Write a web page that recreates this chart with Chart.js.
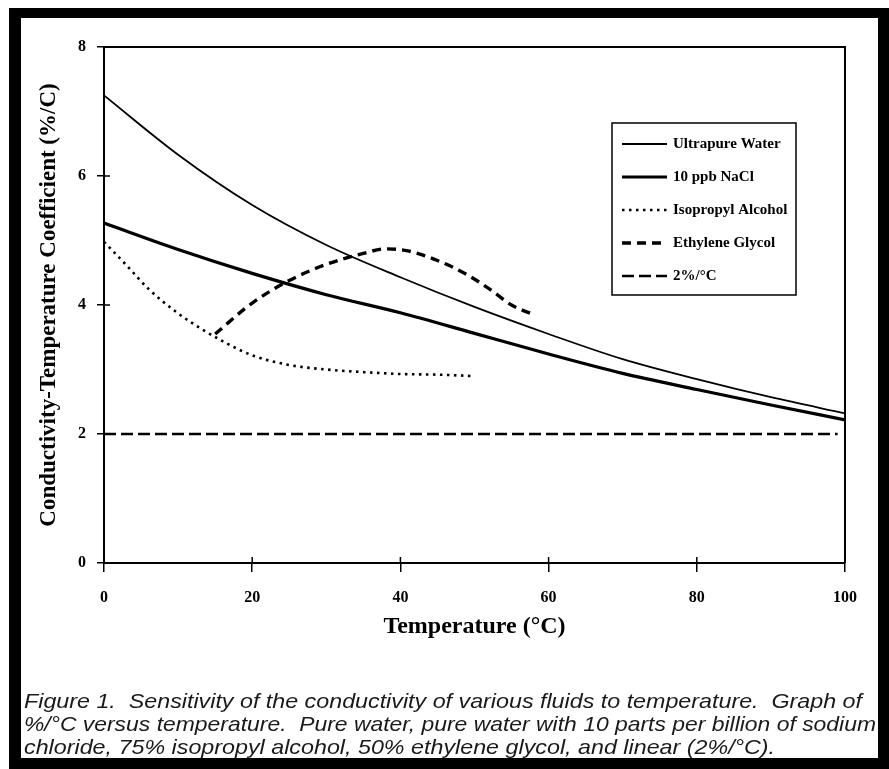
<!DOCTYPE html>
<html>
<head>
<meta charset="utf-8">
<title>Conductivity temperature coefficient</title>
<script src="https://cdn.jsdelivr.net/npm/chart.js@4.4.1/dist/chart.umd.min.js"></script>
<style>
  body { margin: 0; width: 889px; height: 769px; overflow: hidden; background: #fff; position: relative; }
  #frame { position: absolute; left: 9px; top: 8px; width: 880px; height: 761px; background: #000; }
  #inner { position: absolute; left: 12px; top: 10px; width: 857px; height: 740px; background: #fff; }
  #chart { position: absolute; left: 0; top: 0; }
  .cap { position: absolute; left: 24px; font: italic 21px "Liberation Sans Narrow", "Liberation Sans", sans-serif;
         white-space: pre; transform-origin: left center; color: #1a1a1a; line-height: 23px; }
</style>
</head>
<body>
<div id="frame"><div id="inner"></div></div>
<canvas id="chart" width="889" height="769"></canvas>
<div class="cap" style="top:689px" data-w="838">Figure 1.  Sensitivity of the conductivity of various fluids to temperature.  Graph of</div>
<div class="cap" style="top:712px" data-w="852">%/°C versus temperature.  Pure water, pure water with 10 parts per billion of sodium</div>
<div class="cap" style="top:735px" data-w="751">chloride, 75% isopropyl alcohol, 50% ethylene glycol, and linear (2%/°C).</div>
<script>
// valores
const waterT = [0, 10, 20, 30, 40, 50, 60, 70, 80, 90, 100];
const waterVals = [7.25, 6.33, 5.55, 4.93, 4.43, 3.97, 3.55, 3.16, 2.85, 2.57, 2.32];

const naclT = [0, 10, 20, 30, 40, 50, 60, 70, 80, 90, 100];
const naclVals = [5.27, 4.86, 4.49, 4.16, 3.88, 3.56, 3.24, 2.94, 2.69, 2.45, 2.22];

const ipaT = [0, 3, 6, 10, 13, 16, 20, 25, 30, 35, 40, 45, 49.5];
const ipaVals = [4.98, 4.62, 4.25, 3.87, 3.64, 3.44, 3.22, 3.07, 3.0, 2.96, 2.93, 2.92, 2.9];

const glycolT = [15, 20, 25, 30, 35, 38, 41, 45, 49, 52, 55, 58.2];
const glycolVals = [3.55, 4.03, 4.38, 4.63, 4.8, 4.87, 4.84, 4.69, 4.47, 4.25, 4.0, 3.84];

const linearT = [0, 99];
const linearVals = [2, 2];

const xTicks = [0, 20, 40, 60, 80, 100];
const yTicks = [0, 2, 4, 6, 8];

const toPoints = (xs, ys) => xs.map((x, i) => ({ x: x, y: ys[i] }));

// cruces de ticks, borde superior/derecho y leyenda
const plotExtras = {
    id: "plotExtras",
    afterDraw(chart) {
        const { ctx, chartArea: a, scales: { x, y } } = chart;
        ctx.save();
        ctx.strokeStyle = "#000";
        ctx.lineWidth = 2;
        ctx.beginPath();
        ctx.moveTo(a.left, a.top);
        ctx.lineTo(a.right, a.top);
        ctx.lineTo(a.right, a.bottom);
        ctx.stroke();

        ctx.lineWidth = 1.5;
        ctx.beginPath();
        x.ticks.forEach(t => {
            const px = x.getPixelForValue(t.value);
            ctx.moveTo(px, a.bottom);
            ctx.lineTo(px, a.bottom - 6);
        });
        y.ticks.forEach(t => {
            const py = y.getPixelForValue(t.value);
            ctx.moveTo(a.left, py);
            ctx.lineTo(a.left + 6, py);
        });
        ctx.stroke();

        // leyenda
        const box = { left: 612, top: 123, width: 184, height: 172 };
        ctx.fillStyle = "#fff";
        ctx.fillRect(box.left, box.top, box.width, box.height);
        ctx.lineWidth = 1.5;
        ctx.strokeRect(box.left, box.top, box.width, box.height);
        ctx.font = "bold 15px 'Liberation Serif'";
        ctx.textBaseline = "middle";
        ctx.fillStyle = "#000";
        chart.data.datasets.forEach((ds, i) => {
            const ly = 144 + i * 33;
            ctx.setLineDash(ds.borderDash || []);
            ctx.lineWidth = ds.borderWidth;
            ctx.beginPath();
            ctx.moveTo(622, ly);
            ctx.lineTo(667, ly);
            ctx.stroke();
            ctx.setLineDash([]);
            ctx.fillText(ds.label, 673, ly);
        });
        ctx.restore();
    }
};

Chart.defaults.font.family = "'Liberation Serif'";
Chart.defaults.color = "#000";

const ctx = document.getElementById("chart").getContext("2d");
new Chart(ctx, {
    type: "scatter",
    data: {
        datasets: [
            { label: "Ultrapure Water", data: toPoints(waterT, waterVals), borderWidth: 1.8 },
            { label: "10 ppb NaCl", data: toPoints(naclT, naclVals), borderWidth: 3.2 },
            { label: "Isopropyl Alcohol", data: toPoints(ipaT, ipaVals), borderWidth: 2.6, borderDash: [2.5, 4.5] },
            { label: "Ethylene Glycol", data: toPoints(glycolT, glycolVals), borderWidth: 3.4, borderDash: [9, 6] },
            { label: "2%/°C", data: toPoints(linearT, linearVals), borderWidth: 2.6, borderDash: [12, 5] },
        ].map(ds => Object.assign({
            showLine: true,
            borderColor: "#000",
            pointRadius: 0,
            cubicInterpolationMode: "monotone",
            fill: false,
        }, ds)),
    },
    options: {
        responsive: false,
        animation: false,
        layout: { padding: { left: 20, right: 44, top: 47, bottom: 116 } },
        plugins: { legend: { display: false }, tooltip: { enabled: false } },
        scales: {
            x: {
                type: "linear",
                min: 0,
                max: 100,
                afterBuildTicks: s => { s.ticks = xTicks.map(v => ({ value: v })); },
                afterFit: s => { s.height = 90; },
                ticks: { font: { size: 16, weight: "bold" }, padding: 16 },
                grid: { drawOnChartArea: false, color: "#000", lineWidth: 1.5, tickLength: 9 },
                border: { color: "#000", width: 2 },
                title: { display: true, text: "Temperature (°C)", font: { size: 24, weight: "bold" }, padding: { top: 0, bottom: 12 } },
            },
            y: {
                min: 0,
                max: 8,
                afterBuildTicks: s => { s.ticks = yTicks.map(v => ({ value: v })); },
                afterFit: s => { s.width = 84; },
                ticks: { font: { size: 16, weight: "bold" }, padding: 11 },
                grid: { drawOnChartArea: false, color: "#000", lineWidth: 1.5, tickLength: 7 },
                border: { color: "#000", width: 2 },
                title: { display: true, text: "Conductivity-Temperature Coefficient (%/C)", font: { size: 23, weight: "bold" }, padding: { top: 15, bottom: 0 } },
            },
        },
    },
    plugins: [plotExtras],
});

// ajustar el ancho de cada linea del pie de figura
document.querySelectorAll(".cap").forEach(el => {
    const w = el.getBoundingClientRect().width;
    el.style.transform = "scaleX(" + (el.dataset.w / w) + ")";
});
</script>
</body>
</html>
